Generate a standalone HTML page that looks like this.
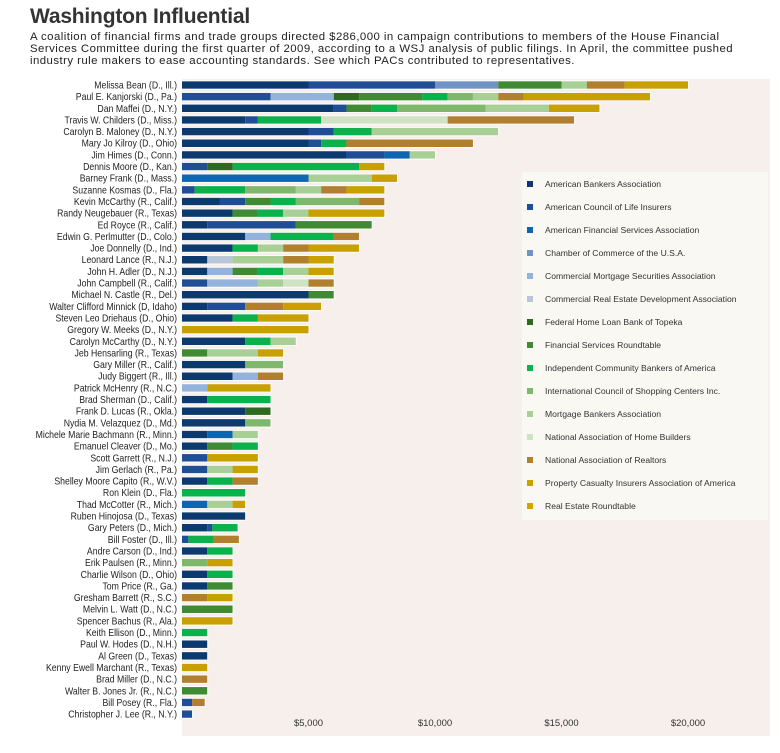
<!DOCTYPE html>
<html><head><meta charset="utf-8">
<style>
html,body{margin:0;padding:0;background:#fff;}
body{width:780px;height:753px;overflow:hidden;font-family:"Liberation Sans",Arial,sans-serif;}
#title{position:absolute;left:30px;top:5px;font-size:21px;font-weight:bold;color:#333;letter-spacing:-0.2px;}
#sub{position:absolute;left:30px;top:31px;width:760px;font-size:11.4px;letter-spacing:0.45px;line-height:12px;color:#222;white-space:nowrap;}
svg{position:absolute;left:0;top:0;}
</style></head>
<body>
<div id="title">Washington Influential</div>
<div id="sub">A coalition of financial firms and trade groups directed $286,000 in campaign contributions to members of the House Financial<br>Services Committee during the first quarter of 2009, according to a WSJ analysis of public filings. In April, the committee pushed<br>industry rule makers to ease accounting standards. See which PACs contributed to representatives.</div>
<svg id="chart" width="780" height="753"></svg>
<script>
const members=["Melissa Bean (D., Ill.)","Paul E. Kanjorski (D., Pa.)","Dan Maffei (D., N.Y.)","Travis W. Childers (D., Miss.)","Carolyn B. Maloney (D., N.Y.)","Mary Jo Kilroy (D., Ohio)","Jim Himes (D., Conn.)","Dennis Moore (D., Kan.)","Barney Frank (D., Mass.)","Suzanne Kosmas (D., Fla.)","Kevin McCarthy (R., Calif.)","Randy Neugebauer (R., Texas)","Ed Royce (R., Calif.)","Edwin G. Perlmutter (D., Colo.)","Joe Donnelly (D., Ind.)","Leonard Lance (R., N.J.)","John H. Adler (D., N.J.)","John Campbell (R., Calif.)","Michael N. Castle (R., Del.)","Walter Clifford Minnick (D, Idaho)","Steven Leo Driehaus (D., Ohio)","Gregory W. Meeks (D., N.Y.)","Carolyn McCarthy (D., N.Y.)","Jeb Hensarling (R., Texas)","Gary Miller (R., Calif.)","Judy Biggert (R., Ill.)","Patrick McHenry (R., N.C.)","Brad Sherman (D., Calif.)","Frank D. Lucas (R., Okla.)","Nydia M. Velazquez (D., Md.)","Michele Marie Bachmann (R., Minn.)","Emanuel Cleaver (D., Mo.)","Scott Garrett (R., N.J.)","Jim Gerlach (R., Pa.)","Shelley Moore Capito (R., W.V.)","Ron Klein (D., Fla.)","Thad McCotter (R., Mich.)","Ruben Hinojosa (D., Texas)","Gary Peters (D., Mich.)","Bill Foster (D., Ill.)","Andre Carson (D., Ind.)","Erik Paulsen (R., Minn.)","Charlie Wilson (D., Ohio)","Tom Price (R., Ga.)","Gresham Barrett (R., S.C.)","Melvin L. Watt (D., N.C.)","Spencer Bachus (R., Ala.)","Keith Ellison (D., Minn.)","Paul W. Hodes (D., N.H.)","Al Green (D., Texas)","Kenny Ewell Marchant (R., Texas)","Brad Miller (D., N.C.)","Walter B. Jones Jr. (R., N.C.)","Bill Posey (R., Fla.)","Christopher J. Lee (R., N.Y.)"];
const pacs=["American Bankers Association","American Council of Life Insurers","American Financial Services Association","Chamber of Commerce of the U.S.A.","Commercial Mortgage Securities Association","Commercial Real Estate Development Association","Federal Home Loan Bank of Topeka","Financial Services Roundtable","Independent Community Bankers of America","International Council of Shopping Centers Inc.","Mortgage Bankers Association","National Association of Home Builders","National Association of Realtors","Property Casualty Insurers Association of America","Real Estate Roundtable"];
const pacColors=["#0d3a6e","#1f4e96","#0f66b0","#6e93c4","#93b3dd","#b8c6d6","#2e6a1e","#3f8a32","#0bb14b","#7fb86c","#a8d096","#cfe2c3","#b0802e","#c8a000","#d4a300"];
// per member: [pacIndex, dollars] segments
const contributions=[
[[0,5000],[1,5000],[3,2500],[7,2500],[10,1000],[12,1500],[13,2500]],
[[1,3500],[4,2500],[6,1000],[7,2500],[8,1000],[9,1000],[10,1000],[12,1000],[13,5000]],
[[0,6000],[1,500],[7,1000],[8,1000],[9,3500],[10,2500],[13,2000]],
[[0,2500],[1,500],[8,2500],[11,5000],[12,5000]],
[[0,5000],[1,1000],[8,1500],[10,5000]],
[[0,5000],[1,500],[8,1000],[12,5000]],
[[0,6500],[1,1500],[2,1000],[10,1000]],
[[1,1000],[6,1000],[8,5000],[13,1000]],
[[2,5000],[10,2500],[13,1000]],
[[1,500],[8,2000],[9,2000],[10,1000],[12,1000],[13,1500]],
[[0,1500],[1,1000],[7,1000],[8,1000],[9,2500],[12,1000]],
[[0,2000],[7,1000],[8,1000],[10,1000],[13,3000]],
[[0,1000],[1,3500],[7,3000]],
[[0,2500],[4,1000],[8,2500],[12,1000]],
[[0,2000],[8,1000],[10,1000],[12,1000],[13,2000]],
[[0,1000],[5,1000],[10,2000],[12,1000],[13,1000]],
[[0,1000],[4,1000],[7,1000],[8,1000],[10,1000],[13,1000]],
[[1,1000],[4,2000],[10,1000],[11,1000],[12,1000]],
[[0,5000],[7,1000]],
[[0,1000],[1,1500],[12,1500],[13,1500]],
[[0,2000],[8,1000],[13,2000]],
[[13,5000]],
[[0,2500],[8,1000],[10,1000]],
[[7,1000],[10,2000],[13,1000]],
[[0,2500],[9,1500]],
[[0,2000],[4,1000],[12,1000]],
[[4,1000],[13,2500]],
[[0,1000],[8,2500]],
[[0,2500],[6,1000]],
[[0,2500],[9,1000]],
[[0,1000],[2,1000],[10,1000]],
[[0,1000],[7,1000],[8,1000]],
[[1,1000],[13,2000]],
[[1,1000],[10,1000],[13,1000]],
[[0,1000],[8,1000],[12,1000]],
[[8,2500]],
[[2,1000],[10,1000],[13,500]],
[[0,2500]],
[[0,1000],[1,200],[8,1000]],
[[1,250],[8,1000],[12,1000]],
[[0,1000],[8,1000]],
[[9,1000],[13,1000]],
[[0,1000],[8,1000]],
[[0,1000],[7,1000]],
[[12,1000],[13,1000]],
[[7,2000]],
[[13,2000]],
[[8,1000]],
[[0,1000]],
[[0,1000]],
[[13,1000]],
[[12,1000]],
[[7,1000]],
[[1,400],[12,500]],
[[1,400]]
];
const tickValues=[5000,10000,15000,20000];
const tickLabels=["$5,000","$10,000","$15,000","$20,000"];

const NS="http://www.w3.org/2000/svg";
const svg=document.getElementById('chart');
const X0=182, PX=25.3/1000, Y0=85, ROW=11.65, BH=7.5;
const xScale=v=>X0+v*PX;
const yScale=i=>Y0+i*ROW;
function mk(tag,attrs,parent){const e=document.createElementNS(NS,tag);for(const k in attrs)e.setAttribute(k,attrs[k]);(parent||svg).appendChild(e);return e;}

const bg=mk('rect',{x:182,y:79,width:588,height:657,fill:'#f6efec'});



const lblG=mk('g',{transform:'translate(177,0) scale(0.89,1)'});
members.forEach((m,i)=>{
  const y=yScale(i);
  const t=mk('text',{x:0,y:y+3.5,'text-anchor':'end','font-size':'9.8',fill:'#222','font-family':'"Liberation Sans",Arial,sans-serif'},lblG);
  t.textContent=m;
  
  
  const g=mk('g',{});
  
  
  let acc=0;
  contributions[i].forEach(([p,v])=>{
    const r=mk('rect',{x:xScale(acc),y:y-BH/2,width:v*PX,height:BH,fill:pacColors[p]},g);
    
    
    acc+=v;
  });
  mk('rect',{x:X0-0.5,y:y-BH/2-0.5,width:acc*PX+1,height:BH+1,fill:'none',stroke:'#fff','stroke-width':'1',opacity:'0.8'},g);
});

tickValues.forEach((v,i)=>{
  const t=mk('text',{x:xScale(v),y:726,'text-anchor':'middle','font-size':'9.5',fill:'#333','font-family':'"Liberation Sans",Arial,sans-serif'});
  t.textContent=tickLabels[i];
  
  
});

const lg=mk('g',{});


mk('rect',{x:522,y:172,width:246,height:348,fill:'#faf8f3'},lg);
pacs.forEach((p,i)=>{
  const y=185+i*23;
  const e=mk('g',{},lg);
  
  
  mk('rect',{x:527,y:y-4,width:6,height:6,fill:pacColors[i]},e);
  const t=mk('text',{x:545,y:y+2,'font-size':'8.6',fill:'#333','font-family':'"Liberation Sans",Arial,sans-serif'},e);
  t.textContent=p;
});
</script>
</body></html>
